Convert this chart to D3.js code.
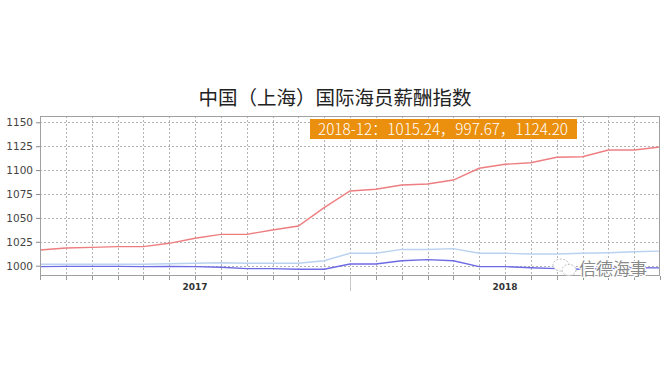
<!DOCTYPE html>
<html>
<head>
<meta charset="utf-8">
<script src="https://cdn.jsdelivr.net/npm/d3@7"></script>
<style>
  html, body { margin: 0; padding: 0; background: #fff; }
  #chart { width: 670px; height: 380px; }
  .grid line { stroke: #b4b4b4; stroke-dasharray: 2,2; shape-rendering: crispEdges; }
  .y-axis text { font-family: "DejaVu Sans", sans-serif; font-size: 10.5px; fill: #444; }
  .y-axis line { stroke: #888; }
</style>
</head>
<body>
<div id="chart"></div>
<script>
const months = ["2016-12","2017-01","2017-02","2017-03","2017-04","2017-05","2017-06","2017-07",
  "2017-08","2017-09","2017-10","2017-11","2017-12","2018-01","2018-02","2018-03","2018-04",
  "2018-05","2018-06","2018-07","2018-08","2018-09","2018-10","2018-11","2018-12"];
const lightBlue = [1001.5,1001.5,1001.5,1001.5,1001.5,1002,1002.5,1003,1002.5,1002.5,1002.5,1005.2,1013,
  1013,1017,1017,1017.8,1013,1013,1012.2,1012.2,1013,1013.6,1014.6,1015.24];
const darkBlue = [999,999.3,999.3,999.3,999,999.3,999,998.3,996.9,996.9,996.2,996.2,1001.8,
  1001.8,1005.2,1006.3,1005.2,999,999,997.9,996.9,996.2,996.9,997.9,997.67];
const red = [1016.4,1018.5,1019.2,1019.9,1019.9,1023.4,1028.7,1032.8,1032.8,1037.3,1041.5,1060.7,1078.1,
  1079.9,1084.4,1085.5,1089.6,1101.9,1106.1,1107.7,1113.4,1114,1121,1121,1124.2];
const yTicks = [1000, 1025, 1050, 1075, 1100, 1125, 1150];
const yearLabels = [{ month: "2017-06", text: "2017" }, { month: "2018-06", text: "2018" }];
const markMonth = "2017-12";
const title = "中国（上海）国际海员薪酬指数";
const tipText = "2018-12：1015.24，997.67，1124.20";

const margin = { top: 116, right: 10, bottom: 104, left: 40 };
const width = 670 - margin.left - margin.right;
const height = 380 - margin.top - margin.bottom;

const root = d3.select("#chart").append("svg")
    .attr("width", 670)
    .attr("height", 380);

root.append("text")
    .attr("x", 335).attr("y", 105)
    .attr("text-anchor", "middle")
    .style("font-family", "'Noto Sans CJK SC', sans-serif")
    .style("font-size", "19.5px")
    .style("fill", "#222")
    .text(title);

const svg = root.append("g")
    .attr("transform", `translate(${margin.left},${margin.top})`);

const x = d3.scalePoint().domain(months).range([0, width]);
const y = d3.scaleLinear().domain([989.2, 1156.6]).range([height, 0]);

// grid
svg.append("g").attr("class", "grid")
    .selectAll("line").data(yTicks).join("line")
    .attr("x1", 0).attr("x2", width)
    .attr("y1", d => Math.round(y(d)) + 0.5).attr("y2", d => Math.round(y(d)) + 0.5);
svg.append("g").attr("class", "grid")
    .selectAll("line").data(months.slice(1, -1)).join("line")
    .attr("x1", d => Math.round(x(d)) + 0.5).attr("x2", d => Math.round(x(d)) + 0.5)
    .attr("y1", 0).attr("y2", height);

// y axis
const yAxis = svg.append("g").attr("class", "y-axis")
    .call(d3.axisLeft(y).tickValues(yTicks).tickSize(4).tickPadding(3).tickFormat(d3.format("d")));
yAxis.select(".domain").remove();

// x ticks
svg.append("g")
    .selectAll("line").data(months).join("line")
    .attr("x1", d => Math.round(x(d)) + 0.5).attr("x2", d => Math.round(x(d)) + 0.5)
    .attr("y1", height).attr("y2", height + 4)
    .attr("stroke", "#999");
svg.append("line")
    .attr("x1", Math.round(x(markMonth)) + 0.5).attr("x2", Math.round(x(markMonth)) + 0.5)
    .attr("y1", height).attr("y2", height + 15)
    .attr("stroke", "#c8c8c8");

svg.append("g")
    .selectAll("text").data(yearLabels).join("text")
    .attr("x", d => x(d.month)).attr("y", height + 14)
    .attr("text-anchor", "middle")
    .style("font-family", "'DejaVu Sans', sans-serif")
    .style("font-size", "9px")
    .style("font-weight", "bold")
    .style("fill", "#333")
    .text(d => d.text);

// lines
const line = d3.line().x((d, i) => x(months[i])).y(d => y(d));
[[lightBlue, "#b9d2ef", 1.4], [darkBlue, "#6c6ae4", 1.4], [red, "#ee7d80", 1.4]].forEach(([vals, color, w]) => {
    svg.append("path")
        .datum(vals)
        .attr("fill", "none")
        .attr("stroke", color)
        .attr("stroke-width", w)
        .attr("d", line);
});

// frame
svg.append("rect")
    .attr("x", 0.5).attr("y", 0.5)
    .attr("width", width - 1).attr("height", height - 1)
    .attr("fill", "none")
    .attr("stroke", "#a0a0a0");

// tooltip box
const tip = svg.append("g").attr("transform", "translate(270,3)");
tip.append("rect")
    .attr("width", 267).attr("height", 20)
    .attr("fill", "#eb8f0e");
tip.append("text")
    .attr("x", 8).attr("y", 16)
    .attr("textLength", 250)
    .attr("lengthAdjust", "spacingAndGlyphs")
    .style("font-family", "'Noto Sans CJK SC', sans-serif")
    .style("font-weight", 300)
    .style("font-size", "15.5px")
    .style("fill", "#fff")
    .text(tipText);

// watermark
const wm = root.append("g").attr("transform", "translate(552,258)");
wm.append("ellipse").attr("cx", 9).attr("cy", 7).attr("rx", 8).attr("ry", 6)
    .attr("fill", "#fff").attr("stroke", "#bbb").attr("stroke-dasharray", "2,1.5");
wm.append("ellipse").attr("cx", 17).attr("cy", 12).attr("rx", 7).attr("ry", 5.5)
    .attr("fill", "#fff").attr("stroke", "#bbb").attr("stroke-dasharray", "2,1.5");
wm.append("text")
    .attr("x", 27).attr("y", 17)
    .style("font-family", "'Noto Sans CJK SC', sans-serif")
    .style("font-size", "17px")
    .style("fill", "#8a8a8a")
    .style("stroke", "#fff")
    .style("stroke-width", 2)
    .style("paint-order", "stroke")
    .text("信德海事");
</script>
</body>
</html>
